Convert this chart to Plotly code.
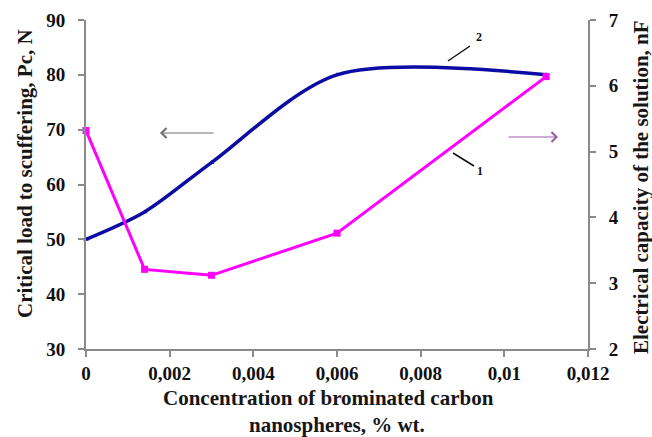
import plotly.graph_objects as go

# Data
conc_load = [0, 0.0014, 0.003, 0.006, 0.011]
critical_load = [50, 55, 64, 80, 80]
conc_cap = [0, 0.0014, 0.003, 0.006, 0.011]
capacity = [5.32, 3.21, 3.12, 3.76, 6.14]

W, H = 652, 437
L, R, T, B = 86, 588, 20, 349

def px(x):
    return (x - L) / (R - L)

def py(y):
    return (B - y) / (B - T)

serif = "Liberation Serif"
fig = go.Figure()
fig.add_trace(go.Scatter(x=conc_load, y=critical_load, mode="lines+markers",
                         line=dict(color="#0c0ca4", width=3.5, shape="spline", smoothing=0.85),
                         marker=dict(symbol="triangle-up", size=5, color="#0c0ca4"),
                         showlegend=False, yaxis="y", cliponaxis=False))
fig.add_trace(go.Scatter(x=conc_cap, y=capacity, mode="lines+markers",
                         line=dict(color="#ff00ff", width=3),
                         marker=dict(symbol="square", size=7, color="#ff00ff"),
                         showlegend=False, yaxis="y2", cliponaxis=False))

axcol = "#8a8a8a"
tickfont = dict(family=serif, size=19, color="#111111", weight="bold")
titlefont = dict(family=serif, size=21, color="#161616", weight="bold")

common = dict(showgrid=False, zeroline=False, showline=True, linecolor=axcol, linewidth=2,
              ticks="outside", tickcolor=axcol, ticklen=6, tickwidth=1.5,
              tickfont=tickfont, automargin=False)

fig.update_layout(
    width=W, height=H,
    margin=dict(l=L, r=W - R, t=T, b=H - B),
    paper_bgcolor="white", plot_bgcolor="white",
    separators=",.",
    xaxis=dict(range=[0, 0.012], dtick=0.002, ticklabelstandoff=0, **common),
    yaxis=dict(range=[30, 90], dtick=10, ticklabelstandoff=9, **common),
    yaxis2=dict(range=[2, 7], dtick=1, overlaying="y", side="right",
                ticklabelstandoff=9, **common),
    yaxis3=dict(range=[2, 7], dtick=1, overlaying="y", side="right", showgrid=False,
                zeroline=False, showline=False, ticks="inside", ticklen=7,
                tickcolor=axcol, tickwidth=1.5, showticklabels=False, automargin=False),
)

def note(x, y, text, font, angle=0):
    fig.add_annotation(x=px(x), y=py(y), xref="paper", yref="paper", text=text,
                       showarrow=False, font=font, textangle=angle,
                       xanchor="center", yanchor="middle")

# axis titles
note(328, 398, "Concentration of brominated carbon", titlefont)
note(337, 425, "nanospheres, % wt.", titlefont)
note(25, 174, "Critical load to scuffering, Pc, N", titlefont, -90)
note(641, 187, "Electrical capacity of the solution, nF", titlefont, -90)

# direction arrows
fig.add_annotation(x=px(160), y=py(133), xref="paper", yref="paper", ax=55, ay=0,
                   text="", showarrow=True, arrowhead=4, arrowsize=1.6, arrowwidth=1.2,
                   arrowcolor="#707070")
fig.add_annotation(x=px(558), y=py(137), xref="paper", yref="paper", ax=-51, ay=0,
                   text="", showarrow=True, arrowhead=4, arrowsize=1.6, arrowwidth=1.2,
                   arrowcolor="#9c5ca4")

# curve labels
for (x0, y0, x1, y1, tx, ty, t) in [(448, 61, 470, 46, 479, 37, "2"),
                                    (453, 153, 474, 166, 480, 171, "1")]:
    fig.add_shape(type="line", xref="paper", yref="paper", x0=px(x0), y0=py(y0),
                  x1=px(x1), y1=py(y1), line=dict(color="#111111", width=1.5))
    note(tx, ty, t, dict(family=serif, size=12, color="#111111", weight="bold"))

fig.write_html("out.html", config={"displayModeBar": False},
               post_script="document.body.style.margin='0';document.body.style.overflow='hidden';")
